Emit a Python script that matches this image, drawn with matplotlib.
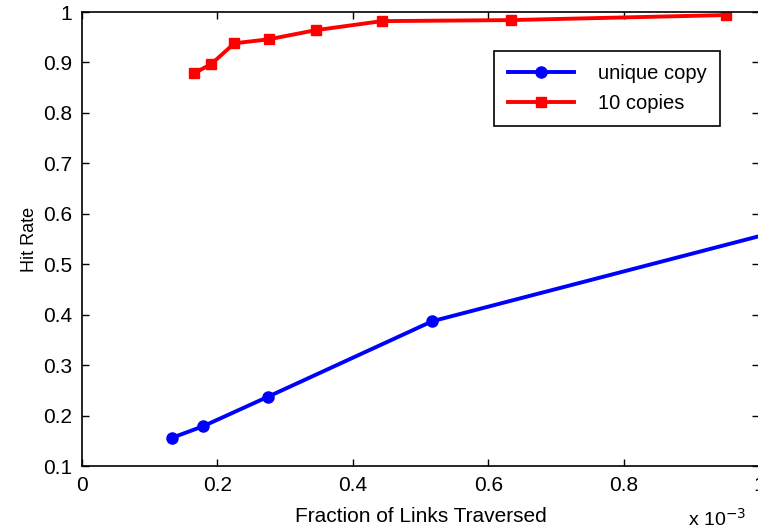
import matplotlib
matplotlib.use('Agg')
import matplotlib.pyplot as plt

# fraction of links traversed (x 10^-3) and hit rate
unique_x = [0.133, 0.179, 0.274, 0.517, 1.25]
unique_y = [0.156, 0.179, 0.237, 0.387, 0.643]

copies_x = [0.166, 0.191, 0.225, 0.276, 0.345, 0.443, 0.633, 0.951]
copies_y = [0.879, 0.897, 0.938, 0.946, 0.964, 0.982, 0.984, 0.994]

xticks = [0, 0.2, 0.4, 0.6, 0.8, 1.0]
xtick_labels = ['0', '0.2', '0.4', '0.6', '0.8', '1']
yticks = [0.1, 0.2, 0.3, 0.4, 0.5, 0.6, 0.7, 0.8, 0.9, 1.0]
ytick_labels = ['0.1', '0.2', '0.3', '0.4', '0.5', '0.6', '0.7', '0.8', '0.9', '1']

plt.rcParams['font.family'] = ['Liberation Sans', 'DejaVu Sans']

fig = plt.figure(figsize=(7.58, 5.32), dpi=100)
ax = fig.add_axes([0.1082, 0.124, 0.8935, 0.8534])

ax.plot(unique_x, unique_y, color='blue', lw=2.8, marker='o', ms=8, label='unique copy')
ax.plot(copies_x, copies_y, color='red', lw=2.8, marker='s', ms=7.5, label='10 copies')

ax.set_xlim(0, 1)
ax.set_ylim(0.1, 1)
ax.set_xticks(xticks)
ax.set_xticklabels(xtick_labels)
ax.set_yticks(yticks)
ax.set_yticklabels(ytick_labels)
ax.tick_params(direction='in', top=True, right=True, labelsize=15, length=5, width=1)
ax.tick_params(axis='x', pad=7)
ax.tick_params(axis='y', pad=7)
for s in ax.spines.values():
    s.set_linewidth(1.2)

ax.set_xlabel('Fraction of Links Traversed', fontsize=15, labelpad=9)
ax.set_ylabel('Hit Rate', fontsize=13, labelpad=4)
fig.text(0.907, 0.004, r'x 10$^{-3}$', fontsize=14, ha='left', va='bottom')

leg = ax.legend(loc='upper right', bbox_to_anchor=(0.942, 0.914), borderaxespad=0,
                fontsize=14.5, fancybox=False, framealpha=1, edgecolor='black',
                handlelength=3.3, borderpad=0.65, labelspacing=0.55, handletextpad=1.2)
leg.get_frame().set_linewidth(1.2)

fig.savefig('out.png', dpi=100)
